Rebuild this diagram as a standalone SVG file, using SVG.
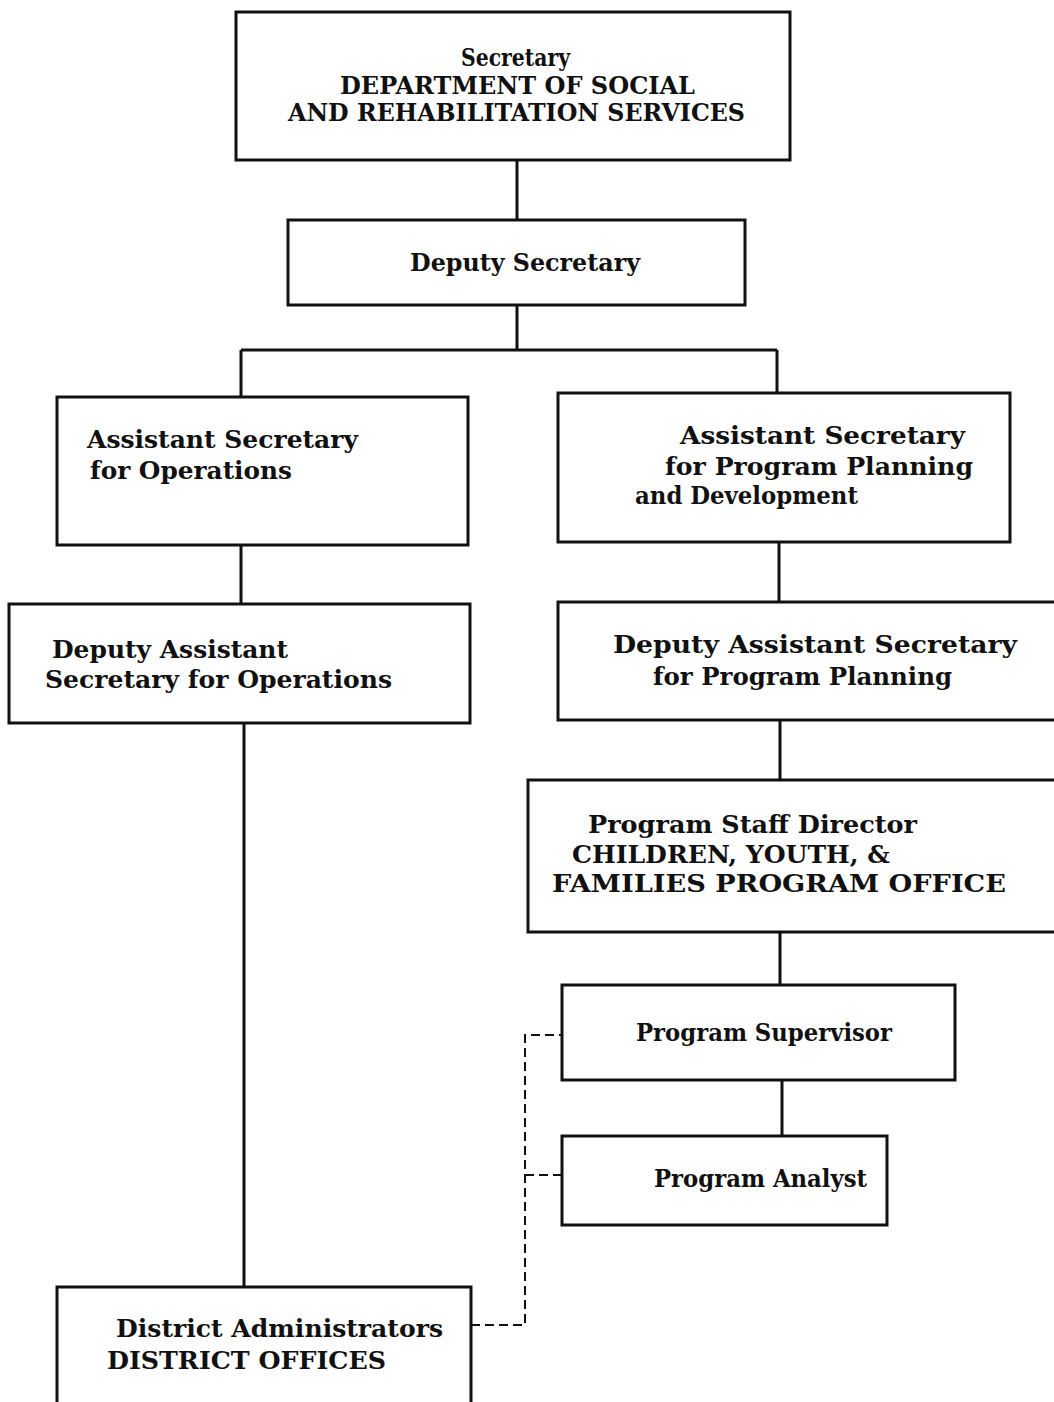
<svg xmlns="http://www.w3.org/2000/svg" width="1054" height="1402" viewBox="0 0 1054 1402">
<style>
.box{fill:#fff;stroke:#111;stroke-width:3}
.ln{fill:none;stroke:#111;stroke-width:3}
.dash{fill:none;stroke:#111;stroke-width:2;stroke-dasharray:9 5}
text{font-family:"DejaVu Serif","Liberation Serif",serif;font-weight:bold;font-size:25px;fill:#111}
</style>
<rect width="1054" height="1402" fill="#fff"/>
<g id="connectors">
<path class="ln" d="M517 160V220"/>
<path class="ln" d="M517 305V350M241 350H777M241 350V397M777 350V393"/>
<path class="ln" d="M241 545V604"/>
<path class="ln" d="M779 542V602"/>
<path class="ln" d="M244 723V1287"/>
<path class="ln" d="M780 720V780"/>
<path class="ln" d="M780 932V985"/>
<path class="ln" d="M782 1080V1136"/>
<path class="dash" d="M471 1325H525V1035H562M525 1175H562"/>
</g>
<g id="secretary">
<rect class="box" x="236" y="12" width="554" height="148"/>
<text x="461" y="66" textLength="109" lengthAdjust="spacingAndGlyphs">Secretary</text>
<text x="340" y="94" textLength="355" lengthAdjust="spacingAndGlyphs">DEPARTMENT OF SOCIAL</text>
<text x="288" y="121" textLength="457" lengthAdjust="spacingAndGlyphs">AND REHABILITATION SERVICES</text>
</g>
<g id="deputy-secretary">
<rect class="box" x="288" y="220" width="457" height="85"/>
<text x="410" y="271" textLength="230" lengthAdjust="spacingAndGlyphs">Deputy Secretary</text>
</g>
<g id="asst-ops">
<rect class="box" x="57" y="397" width="411" height="148"/>
<text x="87" y="448" textLength="271" lengthAdjust="spacingAndGlyphs">Assistant Secretary</text>
<text x="90" y="479" textLength="202" lengthAdjust="spacingAndGlyphs">for Operations</text>
</g>
<g id="asst-ppd">
<rect class="box" x="558" y="393" width="452" height="149"/>
<text x="680" y="444" textLength="285" lengthAdjust="spacingAndGlyphs">Assistant Secretary</text>
<text x="665" y="475" textLength="308" lengthAdjust="spacingAndGlyphs">for Program Planning</text>
<text x="635" y="504" textLength="223" lengthAdjust="spacingAndGlyphs">and Development</text>
</g>
<g id="deputy-asst-ops">
<rect class="box" x="9" y="604" width="461" height="119"/>
<text x="52" y="658" textLength="236" lengthAdjust="spacingAndGlyphs">Deputy Assistant</text>
<text x="45" y="688" textLength="347" lengthAdjust="spacingAndGlyphs">Secretary for Operations</text>
</g>
<g id="deputy-asst-pp">
<rect class="box" x="558" y="602" width="500" height="118"/>
<text x="613" y="653" textLength="404" lengthAdjust="spacingAndGlyphs">Deputy Assistant Secretary</text>
<text x="653" y="685" textLength="299" lengthAdjust="spacingAndGlyphs">for Program Planning</text>
</g>
<g id="program-staff-director">
<rect class="box" x="528" y="780" width="530" height="152"/>
<text x="588" y="833" textLength="329" lengthAdjust="spacingAndGlyphs">Program Staff Director</text>
<text x="572" y="863" textLength="318" lengthAdjust="spacingAndGlyphs">CHILDREN, YOUTH, &amp;</text>
<text x="552" y="892" textLength="454" lengthAdjust="spacingAndGlyphs">FAMILIES PROGRAM OFFICE</text>
</g>
<g id="program-supervisor">
<rect class="box" x="562" y="985" width="393" height="95"/>
<text x="636" y="1041" textLength="256" lengthAdjust="spacingAndGlyphs">Program Supervisor</text>
</g>
<g id="program-analyst">
<rect class="box" x="562" y="1136" width="325" height="89"/>
<text x="654" y="1187" textLength="213" lengthAdjust="spacingAndGlyphs">Program Analyst</text>
</g>
<g id="district">
<rect class="box" x="57" y="1287" width="414" height="130"/>
<text x="116" y="1337" textLength="327" lengthAdjust="spacingAndGlyphs">District Administrators</text>
<text x="107" y="1369" textLength="279" lengthAdjust="spacingAndGlyphs">DISTRICT OFFICES</text>
</g>
</svg>
